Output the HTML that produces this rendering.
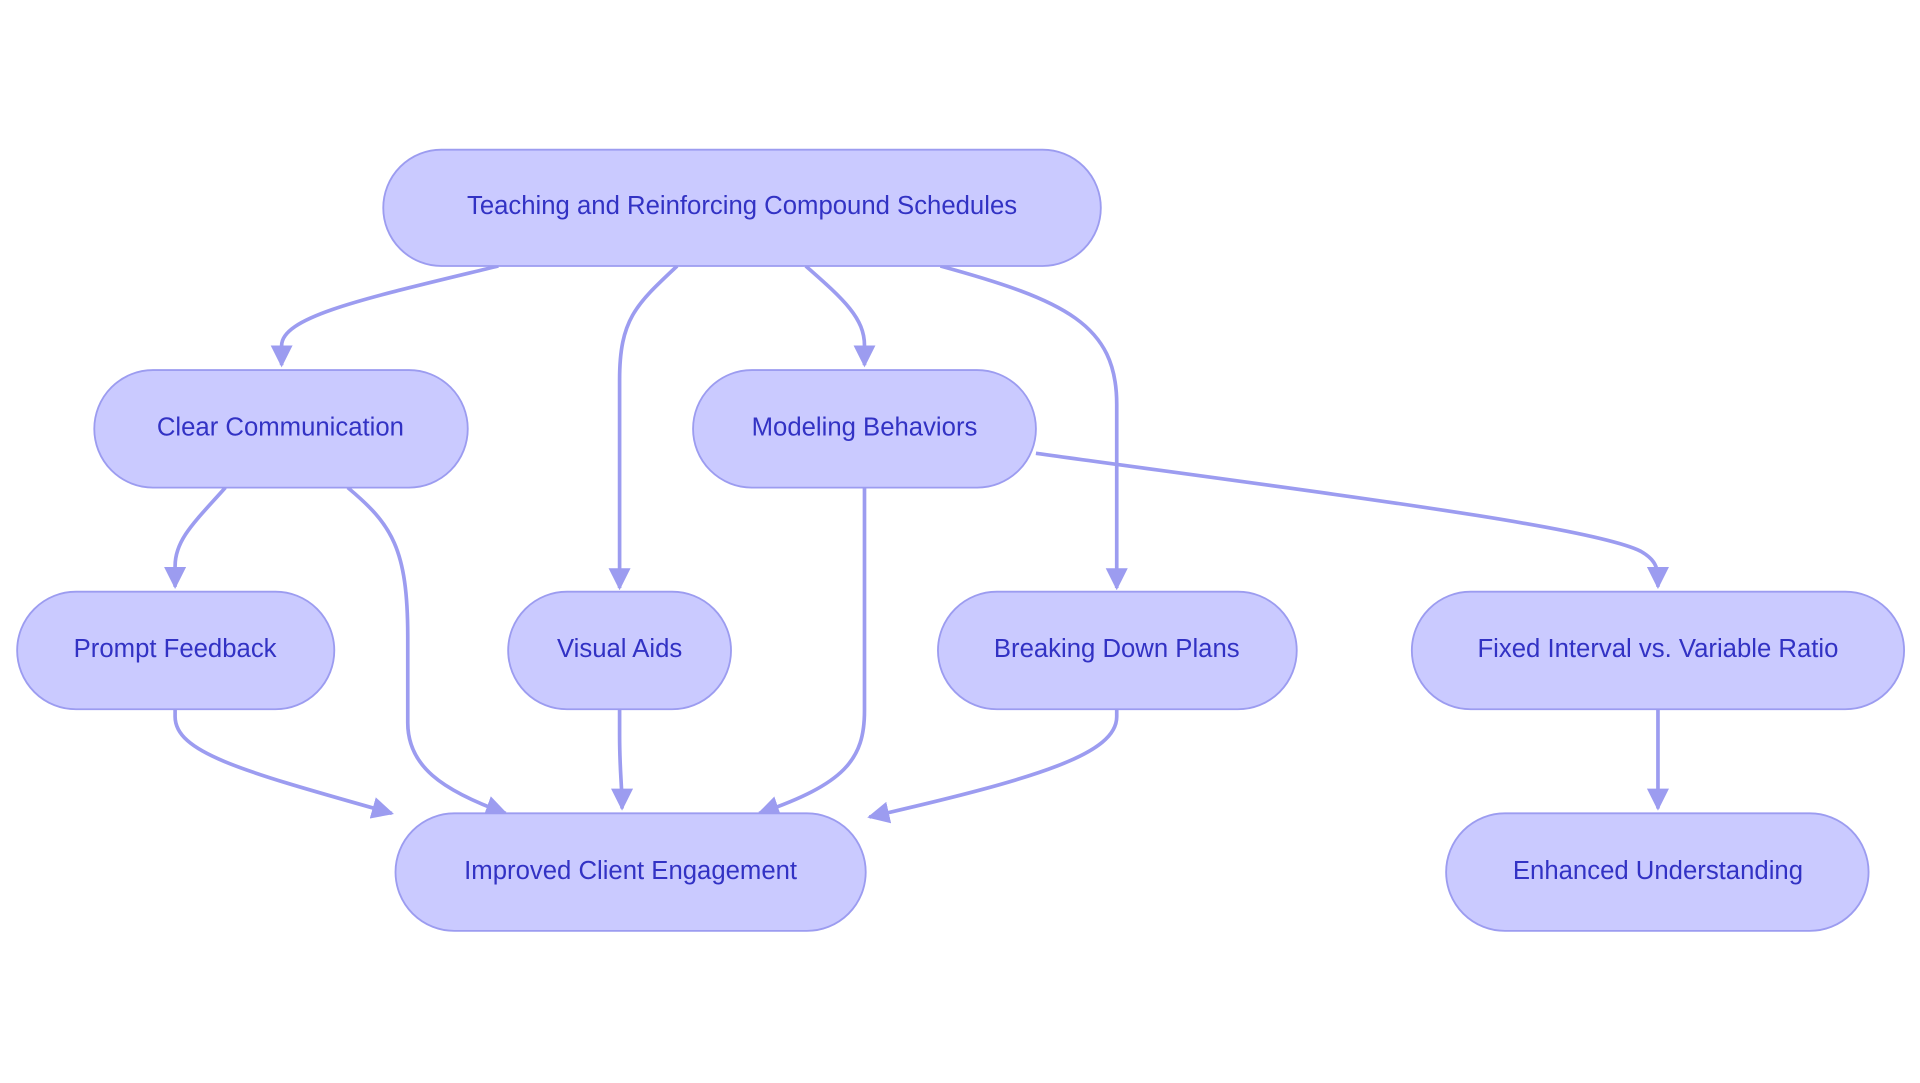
<!DOCTYPE html>
<html><head><meta charset="utf-8"><style>
html,body{margin:0;padding:0;background:#fff;}
svg{display:block}
text{font-family:"Liberation Sans",sans-serif;font-size:21px;fill:#3232c4;text-anchor:middle;dominant-baseline:central}
.n{fill:#cacaff;stroke:#9c9cf0;stroke-width:1.5}
.e{fill:none;stroke:#9c9cf0;stroke-width:3}
</style></head><body>
<svg width="1920" height="1083" viewBox="0 0 1568 884" xmlns="http://www.w3.org/2000/svg">
<defs><marker id="a" viewBox="0 0 10 10" refX="9" refY="5" markerWidth="6" markerHeight="6" orient="auto"><path d="M0,0L10,5L0,10z" fill="#9c9cf0"/></marker></defs>
<path class="e" marker-end="url(#a)" d="M407,217 C300,243 230,258 230,282 L230,298"/>
<path class="e" marker-end="url(#a)" d="M553,217 C520,248 506,260 506,310 L506,480"/>
<path class="e" marker-end="url(#a)" d="M658,217 C690,245 706,260 706,282 L706,298"/>
<path class="e" marker-end="url(#a)" d="M768,217 C870,245 912,265 912,330 L912,480"/>
<path class="e" marker-end="url(#a)" d="M184,398 C160,425 143,440 143,462 L143,479"/>
<path class="e" marker-end="url(#a)" d="M284,398 C320,428 333,448 333,520 L333,590 C333,625 360,645 413,664"/>
<path class="e" marker-end="url(#a)" d="M706,398 L706,580 C706,620 690,640 620,664"/>
<path class="e" marker-end="url(#a)" d="M846,370 C1100,405 1300,430 1340,450 C1354,458 1354,465 1354,479"/>
<path class="e" marker-end="url(#a)" d="M143,579 L143,585 C143,615 200,630 320,664"/>
<path class="e" marker-end="url(#a)" d="M506,579 L506,600 C506,630 508,640 508,660"/>
<path class="e" marker-end="url(#a)" d="M912,579 L912,585 C912,615 850,635 710,667"/>
<path class="e" marker-end="url(#a)" d="M1354,579 L1354,660"/>
<rect class="n" x="313" y="122" width="586" height="95" rx="47.5"/><text x="606" y="168">Teaching and Reinforcing Compound Schedules</text>
<rect class="n" x="77" y="302" width="305" height="96" rx="48"/><text x="229" y="349">Clear Communication</text>
<rect class="n" x="566" y="302" width="280" height="96" rx="48"/><text x="706" y="349">Modeling Behaviors</text>
<rect class="n" x="14" y="483" width="259" height="96" rx="48"/><text x="143" y="530">Prompt Feedback</text>
<rect class="n" x="415" y="483" width="182" height="96" rx="48"/><text x="506" y="530">Visual Aids</text>
<rect class="n" x="766" y="483" width="293" height="96" rx="48"/><text x="912" y="530">Breaking Down Plans</text>
<rect class="n" x="1153" y="483" width="402" height="96" rx="48"/><text x="1354" y="530">Fixed Interval vs. Variable Ratio</text>
<rect class="n" x="323" y="664" width="384" height="96" rx="48"/><text x="515" y="711">Improved Client Engagement</text>
<rect class="n" x="1181" y="664" width="345" height="96" rx="48"/><text x="1354" y="711">Enhanced Understanding</text>
</svg>
</body></html>
